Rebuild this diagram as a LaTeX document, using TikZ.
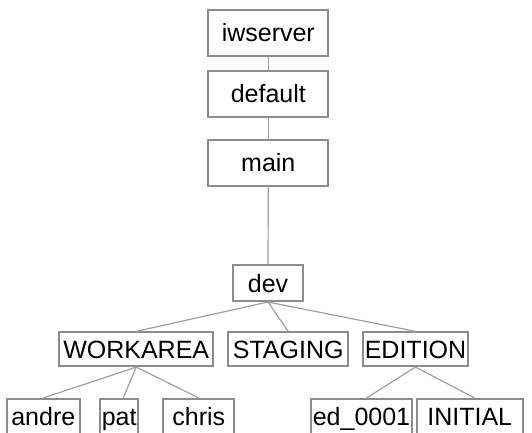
\documentclass[tikz,border=0pt]{standalone}
\usepackage{fontspec}
\setmainfont{Liberation Sans}
\definecolor{boxgray}{HTML}{8C8C8C}
\definecolor{linegray}{HTML}{A0A0A0}
\begin{document}
\begin{tikzpicture}[x=1pt,y=-1pt,
  box/.style={draw=boxgray, line width=2pt, inner sep=0pt, text=black,
    font=\fontsize{25}{30}\selectfont, text height=18pt, text depth=0pt},
  edge/.style={draw=linegray, line width=1.2pt}]
\useasboundingbox (0,0) rectangle (532,432);
\clip (0,0) rectangle (532,432);
\node[box, minimum width=120pt, minimum height=46pt] (iw) at (268.3,32.5) {iwserver};
\node[box, minimum width=120pt, minimum height=46pt] (def) at (268.3,93.7) {default};
\node[box, minimum width=120pt, minimum height=46pt] (main) at (268.3,162.5) {main};
\node[box, minimum width=70.6pt, minimum height=36pt] (dev) at (268,283) {dev};
\node[box, minimum width=154.3pt, minimum height=33.7pt] (wa) at (136.2,349.2) {WORKAREA};
\node[box, minimum width=120.3pt, minimum height=33.7pt] (st) at (288.2,349.2) {STAGING};
\node[box, minimum width=105.6pt, minimum height=33.7pt] (ed) at (415.5,349.2) {EDITION};
\node[box, minimum width=73.3pt, minimum height=35pt] (andre) at (43.3,416.5) {andre};
\node[box, minimum width=38.3pt, minimum height=35pt] (pat) at (119.2,416.5) {pat};
\node[box, minimum width=71pt, minimum height=35pt] (chris) at (198.8,416.5) {chris};
\node[box, minimum width=101.6pt, minimum height=35pt] (e1) at (361.5,416.5) {ed\_0001};
\node[box, minimum width=106pt, minimum height=35pt] (init) at (469.7,416.5) {INITIAL};
\draw[edge] (iw.south) -- (def.north);
\draw[edge] (def.south) -- (main.north);
\draw[edge] (main.south) -- (dev.north);
\draw[edge] (dev.south) -- (wa.north);
\draw[edge] (dev.south) -- (st.north);
\draw[edge] (dev.south) -- (ed.north);
\draw[edge] (wa.south) -- (andre.north);
\draw[edge] (wa.south) -- ([xshift=4pt]pat.north);
\draw[edge] (wa.south) -- (chris.north);
\draw[edge] (ed.south) -- ([xshift=5pt]e1.north);
\draw[edge] (ed.south) -- ([xshift=5pt]init.north);
\end{tikzpicture}
\end{document}
